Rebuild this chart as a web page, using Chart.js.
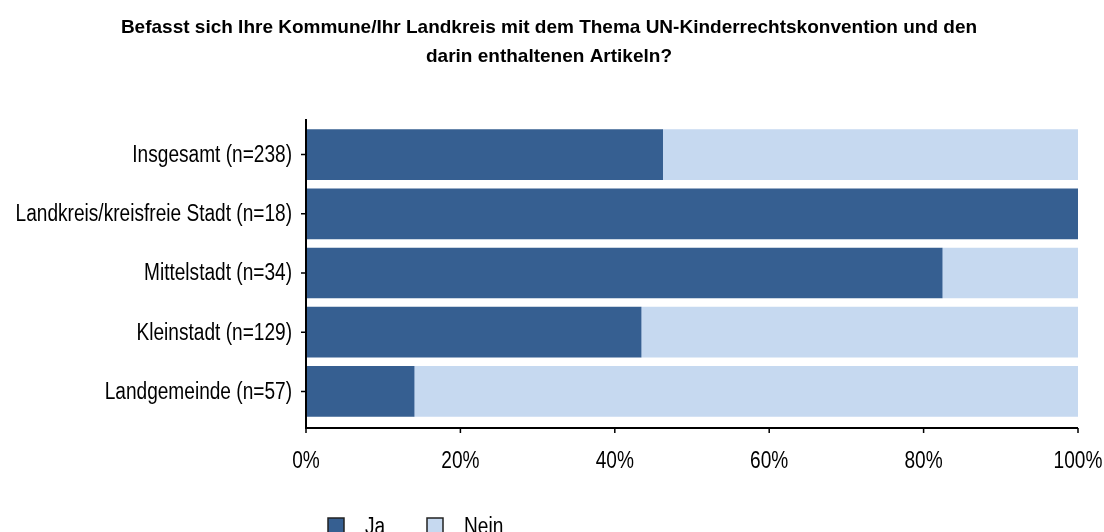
<!DOCTYPE html>
<html>
<head>
<meta charset="utf-8">
<script src="https://cdn.jsdelivr.net/npm/chart.js@4"></script>
<style>
    html, body { margin: 0; padding: 0; background: #fff; }
    #wrap { width: 1104px; height: 532px; }
</style>
</head>
<body>
<div id="wrap"><canvas id="myChart" width="1104" height="532"></canvas></div>
<script>
var categories = ["Insgesamt (n=238)", "Landkreis/kreisfreie Stadt (n=18)", "Mittelstadt (n=34)", "Kleinstadt (n=129)", "Landgemeinde (n=57)"];
var jaValues = [46.2, 100, 82.4, 43.4, 14.0];
var neinValues = [53.8, 0, 17.6, 56.6, 86.0];
var xTicks = [0, 20, 40, 60, 80, 100];
var titleLines = ["Befasst sich Ihre Kommune/Ihr Landkreis mit dem Thema UN-Kinderrechtskonvention und den", "darin enthaltenen Artikeln?"];

var darkBlue = "#365f91";
var lightBlue = "#c6d9f0";
var fontFamily = "'Liberation Sans', Arial, sans-serif";
var narrow = 0.83; // the labels use a narrow face, squeeze Arial instead

function narrowText(ctx, text, x, y, align) {
    ctx.save();
    ctx.translate(x, y);
    ctx.scale(narrow, 1);
    ctx.textAlign = align;
    ctx.fillText(text, 0, 0);
    ctx.restore();
}

// title, axis lines, tick marks, labels and the legend drawn by hand
var axisPlugin = {
    id: "axisPlugin",
    afterDraw: function(chart) {
        var ctx = chart.ctx;
        var area = chart.chartArea;
        var xScale = chart.scales.x;
        var yScale = chart.scales.y;
        var axisY = area.bottom + 7;
        ctx.save();

        ctx.fillStyle = "#000";
        ctx.font = "bold 19px " + fontFamily;
        ctx.textAlign = "center";
        ctx.textBaseline = "middle";
        titleLines.forEach(function(line, i) {
            ctx.fillText(line, 549, 28 + i * 29);
        });

        ctx.strokeStyle = "#000";
        ctx.lineWidth = 2;
        ctx.beginPath();
        ctx.moveTo(area.left, area.top - 6);
        ctx.lineTo(area.left, axisY);
        ctx.lineTo(area.right, axisY);
        ctx.stroke();
        ctx.lineWidth = 1.5;
        ctx.beginPath();
        xTicks.forEach(function(t) {
            var px = xScale.getPixelForValue(t);
            ctx.moveTo(px, axisY);
            ctx.lineTo(px, axisY + 5);
        });
        categories.forEach(function(c, i) {
            var py = yScale.getPixelForValue(i);
            ctx.moveTo(area.left, py);
            ctx.lineTo(area.left - 5, py);
        });
        ctx.stroke();

        ctx.font = "23px " + fontFamily;
        categories.forEach(function(c, i) {
            narrowText(ctx, c, area.left - 14, yScale.getPixelForValue(i) + 1, "right");
        });
        xTicks.forEach(function(t) {
            narrowText(ctx, t + "%", xScale.getPixelForValue(t), axisY + 34, "center");
        });

        // legend
        var items = chart.data.datasets;
        var lx = [328, 427];
        ctx.textBaseline = "alphabetic";
        items.forEach(function(ds, i) {
            ctx.fillStyle = ds.backgroundColor;
            ctx.fillRect(lx[i], 518, 16, 16);
            ctx.strokeStyle = "#222";
            ctx.lineWidth = 1.5;
            ctx.strokeRect(lx[i], 518, 16, 16);
            ctx.fillStyle = "#000";
            narrowText(ctx, ds.label, lx[i] + 37, 534, "left");
        });
        ctx.restore();
    }
};

const canvas = document.getElementById("myChart");
const ctx = canvas.getContext("2d");

new Chart(ctx, {
    type: "bar",
    data: {
        labels: categories,
        datasets: [{
            label: "Ja",
            data: jaValues,
            backgroundColor: darkBlue,
            borderWidth: 0
        }, {
            label: "Nein",
            data: neinValues,
            backgroundColor: lightBlue,
            borderWidth: 0
        }]
    },
    options: {
        indexAxis: "y",
        responsive: false,
        animation: false,
        layout: {
            padding: { left: 0, right: 26, top: 125, bottom: 0 }
        },
        datasets: {
            bar: {
                barThickness: 50
            }
        },
        scales: {
            x: {
                stacked: true,
                min: 0,
                max: 100,
                border: { display: false },
                grid: { display: false },
                afterFit: function(scale) { scale.height = 111; },
                ticks: { display: false, stepSize: 20 }
            },
            y: {
                stacked: true,
                border: { display: false },
                grid: { display: false },
                afterFit: function(scale) { scale.width = 306; },
                ticks: { display: false }
            }
        },
        plugins: {
            legend: { display: false },
            tooltip: { enabled: false },
            title: { display: false }
        }
    },
    plugins: [axisPlugin]
});
</script>
</body>
</html>
